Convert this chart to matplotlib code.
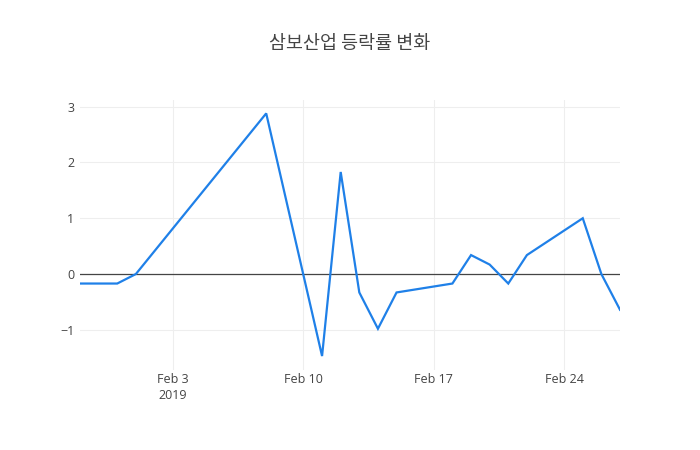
import matplotlib
matplotlib.use("Agg")
import matplotlib.pyplot as plt
import pandas as pd

plt.rcParams['font.family'] = ['Open Sans', 'Noto Sans CJK KR', 'DejaVu Sans']

title = "삼보산업 등락률 변화"
dates = ["2019-01-29", "2019-01-30", "2019-01-31", "2019-02-01", "2019-02-08",
         "2019-02-11", "2019-02-12", "2019-02-13", "2019-02-14", "2019-02-15",
         "2019-02-18", "2019-02-19", "2019-02-20", "2019-02-21", "2019-02-22",
         "2019-02-25", "2019-02-26", "2019-02-27"]
values = [-0.17, -0.17, -0.17, 0.0, 2.88,
          -1.47, 1.83, -0.33, -0.98, -0.33,
          -0.17, 0.34, 0.17, -0.17, 0.34,
          1.0, 0.0, -0.64]
xtick_dates = ["2019-02-03", "2019-02-10", "2019-02-17", "2019-02-24"]
xtick_labels = ["Feb 3\n2019", "Feb 10", "Feb 17", "Feb 24"]
yticks = [-1, 0, 1, 2, 3]
ytick_labels = ["\u22121", "0", "1", "2", "3"]

x = pd.to_datetime(dates)
W, H = 700, 450
fig = plt.figure(figsize=(W / 100, H / 100), dpi=100)
ax = fig.add_axes([80 / W, 80 / H, 540 / W, 270 / H])

ax.plot(x, values, color="#1f80e8", linewidth=1.6, solid_joinstyle="miter", zorder=3)
ax.axhline(0, color="#444444", linewidth=0.9, zorder=2)

ax.set_xlim(x[0], x[-1])
ax.set_ylim(-1.72, 3.12)
ax.set_xticks(pd.to_datetime(xtick_dates))
ax.set_xticklabels(xtick_labels)
ax.set_yticks(yticks)
ax.set_yticklabels(ytick_labels)

ax.grid(True, color="#eeeeee", linewidth=0.8, zorder=0)
ax.set_axisbelow(True)
for s in ax.spines.values():
    s.set_visible(False)
ax.tick_params(axis="x", length=0, labelsize=9, labelcolor="#444444", pad=2)
ax.tick_params(axis="y", length=0, labelsize=9, labelcolor="#444444", pad=4)
for lbl in ax.get_xticklabels():
    lbl.set_linespacing(1.3)

fig.text(350 / W, 1 - 44 / H, title, ha="center", va="center", fontsize=13.3,
         color="#444444", family=['Noto Sans CJK KR', 'DejaVu Sans'], fontweight="medium")

fig.savefig("out.png", dpi=100, facecolor="white")
